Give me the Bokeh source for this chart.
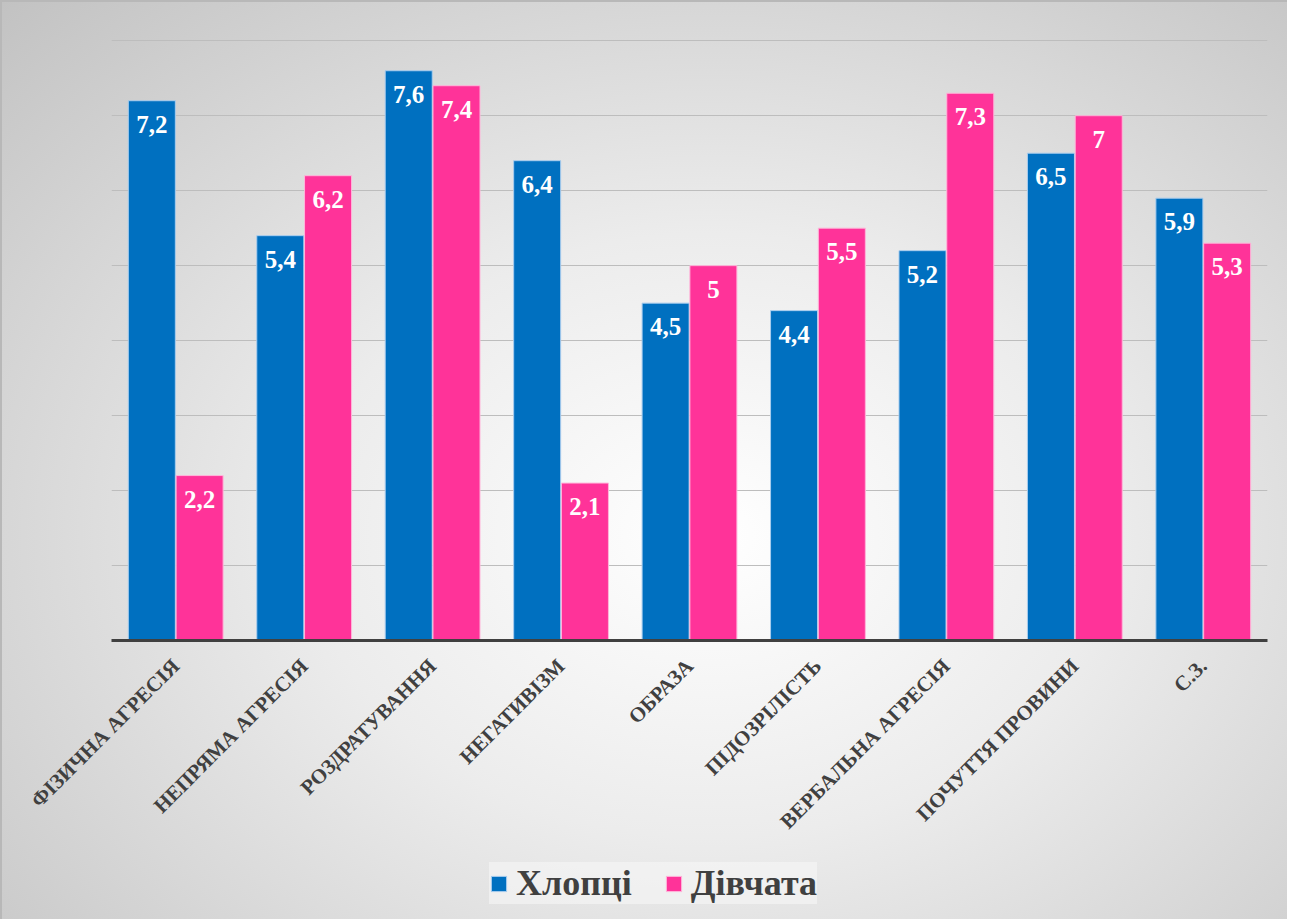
import math
from bokeh.plotting import figure
from bokeh.layouts import column
from bokeh.models import ColumnDataSource, FactorRange, Range1d, Legend, LegendItem
from bokeh.transform import dodge
from bokeh.core.properties import value
from bokeh.embed import file_html
from bokeh.resources import INLINE

categories = ["ФІЗИЧНА АГРЕСІЯ", "НЕПРЯМА АГРЕСІЯ", "РОЗДРАТУВАННЯ", "НЕГАТИВІЗМ",
              "ОБРАЗА", "ПІДОЗРІЛІСТЬ", "ВЕРБАЛЬНА АГРЕСІЯ", "ПОЧУТТЯ ПРОВИНИ", "С.З."]
boys = [7.2, 5.4, 7.6, 6.4, 4.5, 4.4, 5.2, 6.5, 5.9]
girls = [2.2, 6.2, 7.4, 2.1, 5.0, 5.5, 7.3, 7.0, 5.3]
series_names = ["Хлопці", "Дівчата"]


def fmt(v):
    s = ("%g" % v)
    return s.replace(".", ",")


src = ColumnDataSource(dict(
    cat=categories,
    boys=boys,
    girls=girls,
    boys_lbl=[fmt(v) for v in boys],
    girls_lbl=[fmt(v) for v in girls],
))

SERIF = "Liberation Serif"
BLUE = "#0070C0"
PINK = "#FF3399"
BLUE_EDGE = "#a9cdee"
PINK_EDGE = "#ffb6da"

BL, BR, BT, BB = 109, 20, 36, 200
FW, FH = 1156, 602

p = figure(
    frame_width=FW, frame_height=FH,
    x_range=FactorRange(*categories, range_padding=0),
    y_range=Range1d(0, 8.03),
    output_backend="svg", toolbar_location=None,
    y_axis_location=None,
    min_border_left=BL, min_border_right=BR, min_border_top=BT, min_border_bottom=BB,
)
p.border_fill_color = None
p.background_fill_color = None
p.outline_line_color = None

p.xgrid.grid_line_color = None
p.ygrid.grid_line_color = "#bdbdbd"
p.ygrid.grid_line_width = 1.2
p.ygrid.ticker = [1, 2, 3, 4, 5, 6, 7, 8]

W = 0.366
rb = p.vbar(x=dodge("cat", -0.186, range=p.x_range), top="boys", width=W, source=src,
            fill_color=BLUE, line_color=BLUE_EDGE, line_width=1)
rg = p.vbar(x=dodge("cat", 0.186, range=p.x_range), top="girls", width=W, source=src,
            fill_color=PINK, line_color=PINK_EDGE, line_width=1)

p.text(x=dodge("cat", -0.186, range=p.x_range), y="boys", text="boys_lbl", source=src,
       text_align="center", text_baseline="top", y_offset=15,
       text_font=value(SERIF), text_font_style="bold", text_font_size="25px",
       text_color="white")
p.text(x=dodge("cat", 0.186, range=p.x_range), y="girls", text="girls_lbl", source=src,
       text_align="center", text_baseline="top", y_offset=15,
       text_font=value(SERIF), text_font_style="bold", text_font_size="25px",
       text_color="white")

xa = p.xaxis[0]
xa.axis_line_color = "#404040"
xa.axis_line_width = 3
xa.major_tick_line_color = None
xa.minor_tick_line_color = None
xa.major_label_orientation = math.pi / 4
xa.major_label_text_font = SERIF
xa.major_label_text_font_style = "bold"
xa.major_label_text_font_size = "21px"
xa.major_label_text_color = "#404040"
xa.major_label_standoff = 16

# legend strip below the chart (legend proxies share the same styles, hidden)
lg = figure(width=BL + FW + BR, height=78, output_backend="svg",
            toolbar_location=None, x_axis_location=None, y_axis_location=None,
            min_border=0)
lg.border_fill_color = None
lg.background_fill_color = None
lg.outline_line_color = None
lg.grid.visible = False
lb = lg.vbar(x="boys", top="boys", width=0.1, source=src, fill_color=BLUE, line_color=BLUE_EDGE)
lp = lg.vbar(x="girls", top="girls", width=0.1, source=src, fill_color=PINK, line_color=PINK_EDGE)
lb.visible = False
lp.visible = False

legend = Legend(items=[LegendItem(label=series_names[0], renderers=[lb]),
                       LegendItem(label=series_names[1], renderers=[lp])],
                orientation="horizontal", location=(378, 18))
legend.label_text_font = SERIF
legend.label_text_font_style = "bold"
legend.label_text_font_size = "36px"
legend.label_text_color = "#404040"
legend.glyph_width = 19
legend.glyph_height = 19
legend.spacing = 32
legend.label_standoff = 8
legend.background_fill_color = "#f6f6f6"
legend.background_fill_alpha = 0.6
legend.border_line_color = None
legend.padding = 13
legend.margin = 0
legend.click_policy = "none"
lg.add_layout(legend, "center")

layout = column(p, lg, spacing=0)
layout.styles = {
    "background": "radial-gradient(ellipse at 55% 58%, #ffffff 0%, #ececec 40%, #c2c2c2 100%)",
    "border-top": "2px solid #b8b8b8",
    "border-left": "2px solid #b8b8b8",
}

open("out.html", "w").write(file_html(layout, INLINE))
